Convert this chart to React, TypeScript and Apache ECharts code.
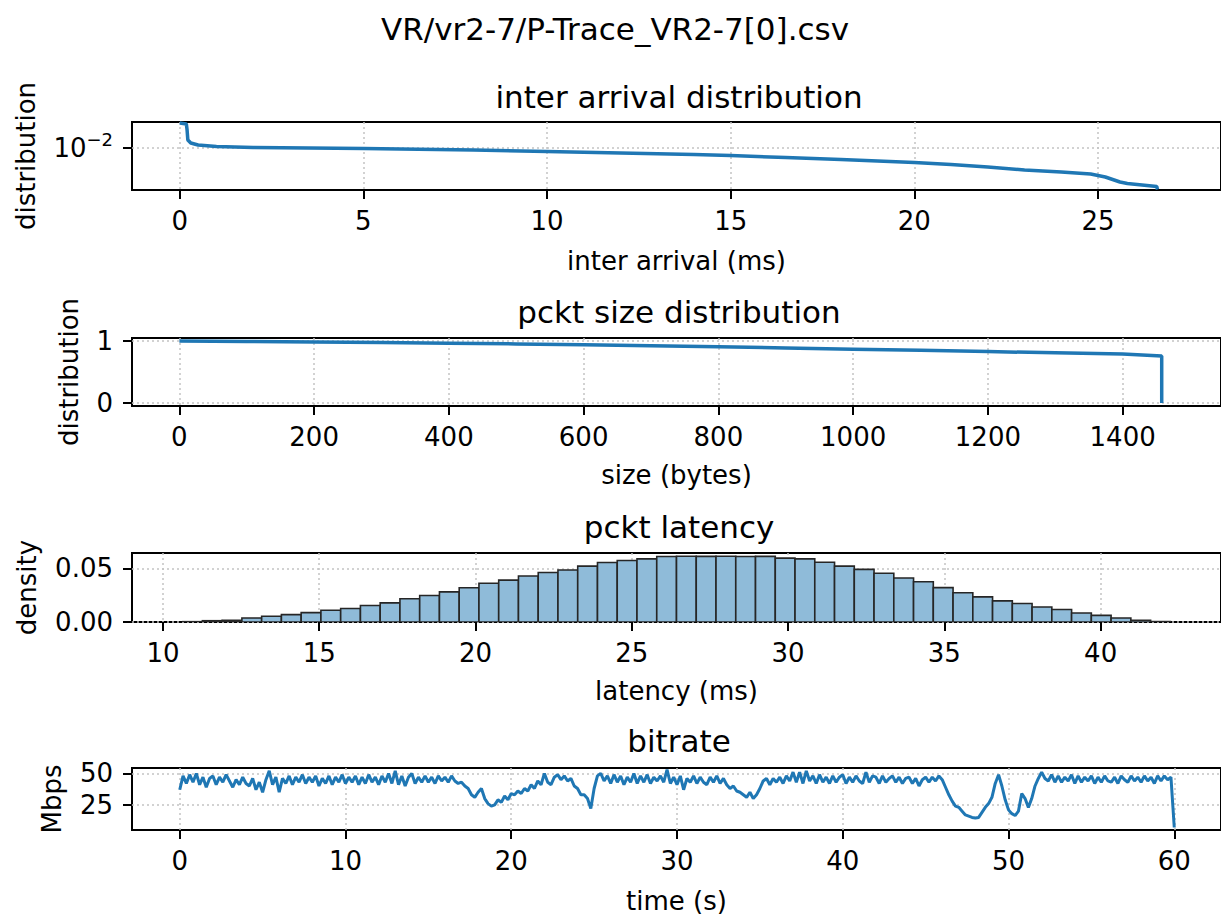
import React, { useEffect, useRef } from 'react';
import * as echarts from 'echarts';

// ---------- texts ----------
const suptitle = 'VR/vr2-7/P-Trace_VR2-7[0].csv';
const panelTitles = ['inter arrival distribution', 'pckt size distribution', 'pckt latency', 'bitrate'];
const xLabels = ['inter arrival (ms)', 'size (bytes)', 'latency (ms)', 'time (s)'];
const yLabels = ['distribution', 'distribution', 'density', 'Mbps'];

// ---------- tick values ----------
const interXTicks = [0, 5, 10, 15, 20, 25];
const interYTicks = [0.01];
const sizeXTicks = [0, 200, 400, 600, 800, 1000, 1200, 1400];
const sizeYTicks = [0, 1];
const latencyXTicks = [10, 15, 20, 25, 30, 35, 40];
const latencyYTicks = [0, 0.05];
const timeXTicks = [0, 10, 20, 30, 40, 50, 60];
const bitrateYTicks = [25, 50];

// ---------- panel 1: inter arrival distribution (log y) ----------
const interArrivalMs = [0, 0.18, 0.2, 0.22, 0.3, 0.5, 1, 2, 5, 8, 10, 12, 14, 15, 16.5, 18, 20, 21, 22, 23, 24, 24.8, 25.2, 25.6, 25.8, 26.6, 26.62];
const interArrivalDist = [0.01334, 0.01318, 0.0123, 0.01097, 0.01059, 0.01035, 0.01017, 0.01006, 0.00994, 0.00977, 0.0096, 0.00944, 0.00928, 0.00917, 0.00896, 0.00876, 0.00846, 0.00827, 0.00804, 0.00776, 0.00759, 0.00741, 0.00716, 0.00676, 0.00665, 0.00642, 0.0062];

// ---------- panel 2: packet size distribution ----------
const pcktSizeBytes = [0, 100, 200, 300, 400, 500, 600, 700, 800, 900, 1000, 1100, 1200, 1300, 1400, 1458, 1458];
const pcktSizeDist = [1.0, 0.994, 0.986, 0.977, 0.966, 0.954, 0.94, 0.924, 0.907, 0.889, 0.87, 0.85, 0.83, 0.81, 0.79, 0.76, 0.0];

// ---------- panel 3: latency histogram (50 bins) ----------
const latencyBinStart = 10.63;
const latencyBinWidth = 0.632;
const latencyDensity = [
  0.0003, 0.0012, 0.0015, 0.0037, 0.0053, 0.0069, 0.0087, 0.011, 0.0125, 0.0153,
  0.0178, 0.0216, 0.0247, 0.028, 0.0319, 0.036, 0.039, 0.0428, 0.046, 0.0484,
  0.052, 0.0553, 0.0572, 0.0587, 0.061, 0.0612, 0.0611, 0.0612, 0.061, 0.0611,
  0.0594, 0.0587, 0.0556, 0.052, 0.049, 0.0453, 0.041, 0.0375, 0.032, 0.0272,
  0.0234, 0.0197, 0.0172, 0.014, 0.0116, 0.0084, 0.0062, 0.0037, 0.0016, 0.0004,
];

// ---------- panel 4: bitrate, one sample every 0.2 s (5 per second) ----------
const bitrateStepS = 0.2;
const bitrateMbps = [
  37, 48, 42, 49, 43, 50, 41, 47, 39, 46, 48, 41, 47, 43, 49, 44, 39, 45, 41, 47,
  42, 40, 46, 37, 43, 35, 45, 52, 41, 47, 35, 46, 42, 48, 41, 47, 43, 49, 42, 47,
  43, 48, 40, 46, 42, 48, 41, 47, 43, 49, 42, 47, 43, 48, 41, 47, 42, 49, 43, 47,
  41, 48, 43, 50, 42, 52, 41, 48, 40, 47, 50, 42, 47, 43, 48, 43, 47, 42, 48, 44,
  47, 43, 48, 44, 42, 43, 40, 38, 33, 31, 35, 38, 30, 26, 24, 25, 29, 27, 32, 29,
  34, 33, 36, 34, 38, 36, 41, 38, 44, 41, 50, 43, 41, 47, 49, 45, 48, 44, 46, 40,
  38, 33, 33, 30, 22, 38, 48, 50, 44, 48, 42, 49, 43, 48, 41, 47, 43, 50, 42, 48,
  43, 49, 42, 47, 44, 48, 43, 53, 42, 47, 41, 48, 37, 46, 43, 48, 42, 47, 43, 41,
  47, 43, 48, 42, 46, 41, 38, 40, 36, 35, 33, 31, 35, 30, 33, 38, 44, 46, 41, 46,
  43, 47, 42, 48, 44, 51, 43, 51, 42, 52, 44, 48, 42, 49, 43, 47, 42, 48, 43, 47,
  49, 42, 47, 43, 48, 44, 42, 51, 43, 48, 47, 42, 48, 43, 46, 48, 43, 47, 42, 46,
  47, 42, 46, 40, 45, 47, 43, 47, 44, 48, 45, 39, 33, 28, 24, 23, 20, 17, 16, 15,
  14.5, 15, 19, 23, 26, 31, 42, 49, 40, 29, 21, 18, 16.5, 20, 34, 30, 23, 30, 40, 46,
  51, 46, 44, 49, 43, 48, 43, 47, 44, 49, 42, 48, 43, 47, 44, 48, 42, 47, 43, 48,
  44, 43, 47, 42, 48, 45, 43, 48, 44, 47, 43, 48, 44, 47, 42, 48, 44, 48, 45, 47,
  7,
];

const FONT = 'DejaVu Sans';
const BLUE = '#1f77b4';

export default function App() {
  const ref = useRef<HTMLDivElement>(null);

  useEffect(() => {
    if (!ref.current) return;
    const chart = echarts.init(ref.current, null, { renderer: 'svg' });

    const gridLeft = 132;
    const gridWidth = 1094;
    const tops = [122, 338, 553, 768];
    const heights = [68, 68, 69, 69];
    const xRanges = [[-1.3, 28.35], [-70.3, 1546], [9.01, 43.85], [-2.88, 62.82]];
    const yRanges = [[0.006166, 0.01349], [-0.05, 1.05], [0, 0.0642], [5.0, 54.3]];
    const xTicks = [interXTicks, sizeXTicks, latencyXTicks, timeXTicks];
    const yTicks = [interYTicks, sizeYTicks, latencyYTicks, bitrateYTicks];
    const yNameGaps = [91, 48, 90, 65];
    const xNameGaps = [56, 54, 54, 56];

    const labelStyle = { fontFamily: FONT, fontSize: 26, color: '#000' };
    const splitLine = { show: true, lineStyle: { color: '#c4c4c4', width: 1.5, type: [2, 3] as any } };
    const tick = (vals: number[]) => ({ show: true, length: 9, lineStyle: { color: '#000', width: 2 }, customValues: vals });

    const grids = tops.map((t, i) => ({
      left: gridLeft, top: t, width: gridWidth, height: heights[i],
      show: true, borderColor: '#000', borderWidth: 2, backgroundColor: 'rgba(0,0,0,0)',
    }));

    const xAxes = xRanges.map((r, i) => ({
      type: 'value', gridIndex: i, min: r[0], max: r[1], position: 'bottom',
      name: xLabels[i], nameLocation: 'middle', nameGap: xNameGaps[i],
      nameTextStyle: { ...labelStyle, lineHeight: 30 },
      axisLine: { show: false, onZero: false },
      axisTick: tick(xTicks[i]),
      axisLabel: { ...labelStyle, margin: 18, customValues: xTicks[i], formatter: (v: number) => String(v) },
      splitLine,
    }));

    const yAxes = yRanges.map((r, i) => {
      const base: any = {
        type: i === 0 ? 'log' : 'value', gridIndex: i, min: r[0], max: r[1], position: 'left',
        name: yLabels[i], nameLocation: 'middle', nameGap: yNameGaps[i],
        nameTextStyle: { ...labelStyle, lineHeight: 30 },
        axisLine: { show: false, onZero: false },
        axisTick: tick(yTicks[i]),
        axisLabel: { ...labelStyle, margin: 19, customValues: yTicks[i] },
        splitLine,
      };
      if (i === 0) {
        base.logBase = 10;
        base.axisLabel.formatter = (v: number) => (Math.abs(Math.log10(v) + 2) < 1e-6 ? '{b|10}{sup|\u22122}' : '');
        base.axisLabel.rich = {
          b: { fontFamily: FONT, fontSize: 26, color: '#000', lineHeight: 36 },
          sup: { fontFamily: FONT, fontSize: 18, color: '#000', lineHeight: 18, verticalAlign: 'top' },
        };
      } else if (i === 2) {
        base.axisLabel.formatter = (v: number) => v.toFixed(2);
      } else {
        base.axisLabel.formatter = (v: number) => String(v);
      }
      return base;
    });

    const histRows = latencyDensity.map((d, i) => [
      latencyBinStart + i * latencyBinWidth,
      latencyBinStart + (i + 1) * latencyBinWidth,
      d,
    ]);

    const titleText = (text: string, x: number, y: number) => ({
      type: 'text', x, y, silent: true,
      style: { text, fontFamily: FONT, fontSize: 31, fill: '#000', align: 'center', verticalAlign: 'middle' },
    });

    const option: any = {
      animation: false,
      backgroundColor: '#fff',
      grid: grids,
      xAxis: xAxes,
      yAxis: yAxes,
      graphic: [
        titleText(suptitle, 615, 29),
        titleText(panelTitles[0], 679, 97),
        titleText(panelTitles[1], 679, 312),
        titleText(panelTitles[2], 679, 527),
        titleText(panelTitles[3], 679, 741),
      ],
      series: [
        {
          type: 'line', xAxisIndex: 0, yAxisIndex: 0, showSymbol: false, clip: true,
          data: interArrivalMs.map((x, i) => [x, interArrivalDist[i]]),
          lineStyle: { color: BLUE, width: 3.5 },
        },
        {
          type: 'line', xAxisIndex: 1, yAxisIndex: 1, showSymbol: false, clip: true,
          data: pcktSizeBytes.map((x, i) => [x, pcktSizeDist[i]]),
          lineStyle: { color: BLUE, width: 3.5 },
        },
        {
          type: 'custom', xAxisIndex: 2, yAxisIndex: 2, clip: true,
          data: histRows,
          encode: { x: [0, 1], y: 2 },
          renderItem: (_params: any, api: any) => {
            const p0 = api.coord([api.value(0), api.value(2)]);
            const p1 = api.coord([api.value(1), 0]);
            return {
              type: 'rect',
              shape: { x: p0[0], y: p0[1], width: p1[0] - p0[0], height: p1[1] - p0[1] },
              style: { fill: '#8fbbd9', stroke: '#262626', lineWidth: 1.6 },
            };
          },
        },
        {
          type: 'line', xAxisIndex: 3, yAxisIndex: 3, showSymbol: false, clip: true,
          data: bitrateMbps.map((v, i) => [i * bitrateStepS, v]),
          lineStyle: { color: BLUE, width: 3 },
        },
      ],
    };

    chart.setOption(option);
    return () => chart.dispose();
  }, []);

  return (
    <div
      ref={ref}
      style={{ position: 'fixed', left: 0, top: 0, width: 1221, height: 917, background: '#fff' }}
    />
  );
}
